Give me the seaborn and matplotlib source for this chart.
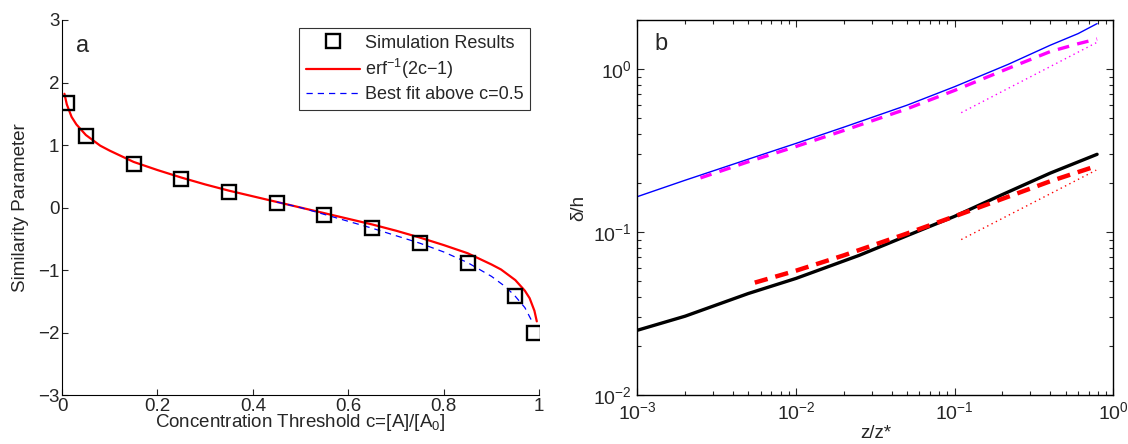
import numpy as np
import pandas as pd
import matplotlib
matplotlib.use("Agg")
import matplotlib.pyplot as plt
import seaborn as sns

# panel a : similarity parameter vs concentration threshold
c_sim = [0.01, 0.05, 0.15, 0.25, 0.35, 0.45, 0.55, 0.65, 0.75, 0.85, 0.95, 0.99]
eta_sim = [1.68, 1.15, 0.70, 0.45, 0.25, 0.08, -0.12, -0.33, -0.56, -0.88, -1.42, -2.00]

c_erf = [0.005, 0.01, 0.02, 0.03, 0.05, 0.08, 0.10, 0.15, 0.20, 0.25, 0.30, 0.35, 0.40, 0.45,
         0.50, 0.55, 0.60, 0.65, 0.70, 0.75, 0.80, 0.85, 0.90, 0.92, 0.95, 0.97, 0.98, 0.99, 0.995]
eta_erf = [1.82, 1.65, 1.45, 1.33, 1.16, 0.99, 0.91, 0.73, 0.60, 0.48, 0.37, 0.27, 0.18, 0.09,
           0.00, -0.09, -0.18, -0.27, -0.37, -0.48, -0.60, -0.73, -0.91, -0.99, -1.16, -1.33, -1.45, -1.65, -1.82]

c_fit = [0.45, 0.50, 0.55, 0.60, 0.65, 0.70, 0.75, 0.80, 0.85, 0.90, 0.93, 0.95, 0.97, 0.985]
eta_fit = [0.09, 0.00, -0.11, -0.22, -0.33, -0.45, -0.57, -0.71, -0.88, -1.10, -1.27, -1.42, -1.60, -1.82]

# panel b : delta/h vs z/z*
z_blue = [1e-3, 2e-3, 5e-3, 1e-2, 2e-2, 5e-2, 0.1, 0.218, 0.4, 0.6, 0.79]
d_blue = [0.165, 0.208, 0.28, 0.35, 0.44, 0.60, 0.78, 1.07, 1.40, 1.65, 1.90]

z_mag = [2.5e-3, 5e-3, 1e-2, 2e-2, 5e-2, 0.1, 0.218, 0.4, 0.6, 0.79]
d_mag = [0.215, 0.27, 0.335, 0.42, 0.57, 0.74, 1.01, 1.28, 1.43, 1.53]

z_mag_dot = [0.11, 0.78]
d_mag_dot = [0.54, 1.45]

z_black = [1e-3, 2e-3, 5e-3, 1e-2, 2.5e-2, 5e-2, 0.1, 0.2, 0.4, 0.79]
d_black = [0.025, 0.0305, 0.042, 0.052, 0.072, 0.095, 0.125, 0.17, 0.23, 0.30]

z_red = [5.5e-3, 1e-2, 2e-2, 5e-2, 0.1, 0.2, 0.4, 0.79]
d_red = [0.049, 0.058, 0.072, 0.098, 0.125, 0.16, 0.205, 0.255]

z_red_dot = [0.11, 0.78]
d_red_dot = [0.09, 0.24]


def main():
    sns.set_style("ticks")
    plt.rcParams['font.family'] = ['Liberation Sans', 'DejaVu Sans']
    plt.rcParams['mathtext.fontset'] = 'custom'
    plt.rcParams['mathtext.rm'] = 'Liberation Sans'
    plt.rcParams['mathtext.it'] = 'Liberation Sans'

    fig = plt.figure(figsize=(11.28, 4.44), dpi=100)
    ax1 = fig.add_axes([0.055, 0.110, 0.423, 0.845])
    ax2 = fig.add_axes([0.565, 0.110, 0.422, 0.845])

    # ---- panel a
    df_sim = pd.DataFrame({'c': c_sim, 'eta': eta_sim})
    df_erf = pd.DataFrame({'c': c_erf, 'eta': eta_erf})
    df_fit = pd.DataFrame({'c': c_fit, 'eta': eta_fit})

    sns.lineplot(data=df_erf, x='c', y='eta', ax=ax1, color='red', lw=1.6,
                 sort=False, estimator=None, label=r'erf$^{-1}$(2c$-$1)', zorder=2)
    sns.lineplot(data=df_fit, x='c', y='eta', ax=ax1, color='blue', lw=0.9,
                 sort=False, estimator=None, label='Best fit above c=0.5', zorder=3)
    ax1.lines[-1].set_dashes([5, 4])
    ax1.plot(df_sim['c'], df_sim['eta'], ls='none', marker='s', ms=10, mfc='none', mec='black',
             mew=1.7, label='Simulation Results', zorder=4)

    ax1.set_xlim(0, 1)
    ax1.set_ylim(-3, 3)
    ax1.set_xticks([0, 0.2, 0.4, 0.6, 0.8, 1])
    ax1.set_xticklabels(['0', '0.2', '0.4', '0.6', '0.8', '1'])
    ax1.set_yticks([-3, -2, -1, 0, 1, 2, 3])
    ax1.set_yticklabels(['\u22123', '\u22122', '\u22121', '0', '1', '2', '3'])
    ax1.tick_params(direction='in', length=4, width=0.8, labelsize=13.5, pad=2)
    ax1.set_xlabel(r'Concentration Threshold c=[A]/[A$_0$]', fontsize=13.5, labelpad=-2)
    ax1.set_ylabel('Similarity Parameter', fontsize=13.5, labelpad=6)
    sns.despine(ax=ax1)
    ax1.text(0.03, 0.93, 'a', transform=ax1.transAxes, fontsize=17, va='center')

    h, l = ax1.get_legend_handles_labels()
    order = [l.index('Simulation Results'), l.index(r'erf$^{-1}$(2c$-$1)'), l.index('Best fit above c=0.5')]
    leg = ax1.legend([h[i] for i in order], [l[i] for i in order], loc='upper right',
                     bbox_to_anchor=(0.981, 0.978), fontsize=13, frameon=True, fancybox=False,
                     edgecolor='black', handlelength=3.0, handletextpad=0.3, borderpad=0.35,
                     labelspacing=0.3, borderaxespad=0)
    leg.get_frame().set_linewidth(0.8)

    # ---- panel b
    lines_b = [
        (z_blue, d_blue, 'blue', 1.0, '-'),
        (z_mag, d_mag, 'magenta', 2.4, (0, (3.5, 2.5))),
        (z_mag_dot, d_mag_dot, 'magenta', 1.0, (0, (1, 2.5))),
        (z_black, d_black, 'black', 2.4, '-'),
        (z_red, d_red, 'red', 3.2, (0, (3, 1.8))),
        (z_red_dot, d_red_dot, 'red', 1.0, (0, (1, 2.5))),
    ]
    for zs, ds, col, lw, ls in lines_b:
        df = pd.DataFrame({'z': zs, 'd': ds})
        sns.lineplot(data=df, x='z', y='d', ax=ax2, color=col, lw=lw, linestyle=ls,
                     sort=False, estimator=None)

    ax2.set_xscale('log')
    ax2.set_yscale('log')
    ax2.set_xlim(1e-3, 1)
    ax2.set_ylim(1e-2, 2)
    ax2.tick_params(which='both', direction='in', top=True, right=True, width=0.8,
                    labelsize=14, pad=4)
    ax2.tick_params(which='major', length=5)
    ax2.tick_params(which='minor', length=3)
    ax2.set_xlabel('z/z*', fontsize=13.5, labelpad=2)
    ax2.set_ylabel('\u03b4/h', fontsize=13.5, labelpad=4)
    for s in ax2.spines.values():
        s.set_linewidth(1.0)
    ax2.text(0.035, 0.935, 'b', transform=ax2.transAxes, fontsize=17, va='center')

    for ax in (ax1, ax2):
        for s in ax.spines.values():
            s.set_color('black')

    fig.savefig('out.png', dpi=100)


if __name__ == "__main__":
    main()
